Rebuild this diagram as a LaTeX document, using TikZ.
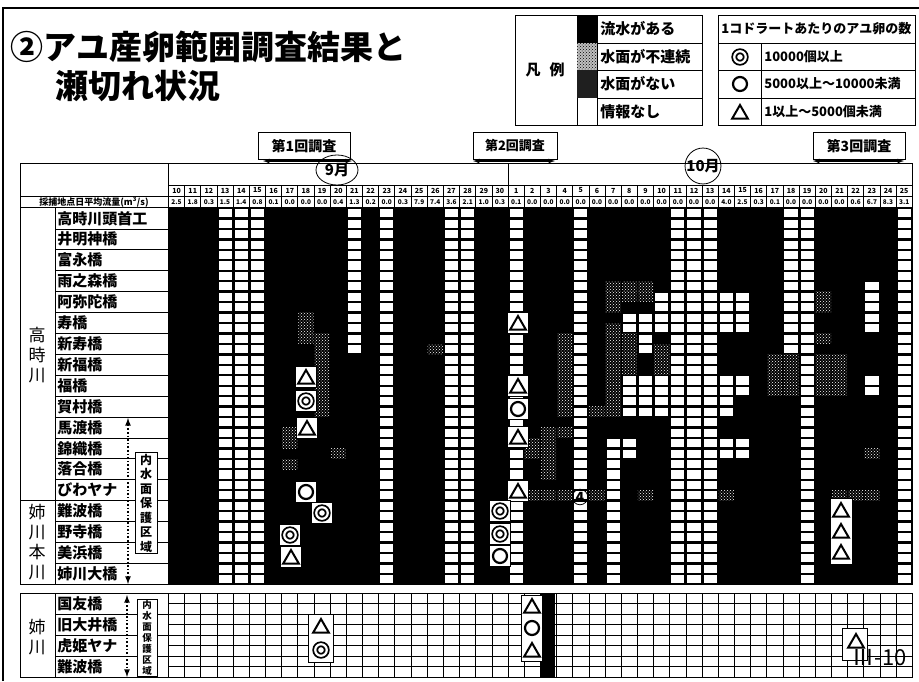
\documentclass[tikz,border=0pt]{standalone}
\usepackage{fontspec}
\setmainfont{Noto Sans CJK JP}
\usetikzlibrary{arrows, patterns, shapes.geometric}
\newcommand{\gridx}{168.5}
\newcommand{\gridy}{208}
\newcommand{\colw}{16.17}
\newcommand{\subh}{10.45}
\newcommand{\rowh}{20.9}
\begin{document}
\begin{tikzpicture}[x=1pt, y=-1pt, line width=0.8pt,
  day/.style={font=\fontsize{7}{7}\selectfont\bfseries, inner sep=0pt},
  flow/.style={font=\fontsize{6.5}{6.5}\selectfont\bfseries, inner sep=0pt},
  sta/.style={anchor=west, font=\fontsize{15}{15}\selectfont\bfseries, inner sep=0pt},
  grp/.style={align=center, font=\fontsize{17}{20}\selectfont, inner sep=0pt},
  symbox/.style={fill=white, draw, line width=0.5pt, minimum size=21pt, inner sep=0pt},
  tri/.style={regular polygon, regular polygon sides=3, draw, line width=2pt, minimum size=18pt, inner sep=0pt, yshift=-2pt},
  ring/.style={circle, draw, line width=2.2pt, minimum size=14pt, inner sep=0pt},
  dring/.style={circle, draw, line width=1.8pt, double=white, double distance=2.2pt, minimum size=11.5pt, inner sep=0pt},
  survey/.style={draw, minimum height=27pt, inner sep=1pt, font=\fontsize{14}{14}\selectfont\bfseries},
  legtxt/.style={anchor=west, font=\fontsize{15}{15}\selectfont\bfseries, inner sep=0pt},
  cnttxt/.style={anchor=west, font=\fontsize{13}{13}\selectfont\bfseries, inner sep=0pt},
  zone/.style={draw, fill=white, align=center, inner sep=1pt, minimum width=22pt}]
\useasboundingbox (0,0) rectangle (919,681);
\fill[white] (0,0) rectangle (919,681);
\draw[line width=1.2pt] (3,681) -- (3,8) -- (919,8);

\node[anchor=west, font=\fontsize{33}{33}\selectfont\bfseries, inner sep=0pt] (ttl1) at (10,47) {②アユ産卵範囲調査結果と};
\node[anchor=west, font=\fontsize{33}{33}\selectfont\bfseries, inner sep=0pt] (ttl2) at (55,86) {瀬切れ状況};

\draw (515,15) rectangle (702,125);
\draw (577,15) -- (577,125);
\draw (597,15) -- (597,125);
\foreach \y in {43,70,98} \draw (597,\y) -- (702,\y);
\fill (577,15) rectangle (597,43);
\fill[black!25] (577,43) rectangle (597,70);
\fill[pattern=crosshatch dots] (577,43) rectangle (597,70);
\fill[black!88] (577,70) rectangle (597,98);
\node[font=\fontsize{15}{15}\selectfont\bfseries] (hanrei) at (545,70) {凡\hspace{9pt}例};
\node[legtxt] (lg1) at (600,29) {流水がある};
\node[legtxt] (lg2) at (600,57) {水面が不連続};
\node[legtxt] (lg3) at (600,84) {水面がない};
\node[legtxt] (lg4) at (600,112) {情報なし};

\draw (718,15) rectangle (915,125);
\foreach \y in {43,70,98} \draw (718,\y) -- (915,\y);
\draw (761,43) -- (761,125);
\node[cnttxt] (cn0) at (721,29) {1コドラートあたりのアユ卵の数};
\node[dring] (cs1) at (740,57) {};
\node[ring] (cs2) at (740,84) {};
\node[tri] (cs3) at (740,112) {};
\node[cnttxt] (cn1) at (764,57) {10000個以上};
\node[cnttxt] (cn2) at (764,84) {5000以上～10000未満};
\node[cnttxt] (cn3) at (764,112) {1以上～5000個未満};

\node[survey, minimum width=92pt] (sv1) at (304,146) {第1回調査};
\node[survey, minimum width=84pt, font=\fontsize{13}{13}\selectfont\bfseries] (sv2) at (515,146) {第2回調査};
\node[survey, minimum width=92pt] (sv3) at (859,146) {第3回調査};
\coordinate (a1l) at (263,161);
\coordinate (a1r) at (352,161);
\coordinate (a2l) at (473,161);
\coordinate (a2r) at (555,161);
\coordinate (a3l) at (813,161);
\coordinate (a3r) at (904,161);
\draw[latex-latex, line width=1.2pt] (a1l) -- (a1r);
\draw[latex-latex, line width=1.2pt] (a2l) -- (a2r);
\draw[latex-latex, line width=1.2pt] (a3l) -- (a3r);

\fill (168.5,208) rectangle (912.3,584.2);
\foreach \c/\a/\b in {3/0/35,4/0/35,5/0/35,11/0/13,13/0/35,17/0/35,18/0/35,21/0/35,25/0/35,
  27/22/35,28/10/11,28/16/19,28/22/23,29/10/13,29/16/19,30/8/11,30/16/19,31/0/35,32/0/35,33/0/35,
  34/8/11,34/16/19,34/22/23,35/8/11,35/16/17,35/22/23,38/0/13,39/0/35,43/7/11,43/16/17,45/0/35}
  \foreach \k in {\a,...,\b}
    \fill[white] ({\gridx+\colw*\c+1.5},{\gridy+\subh*\k+1.2}) rectangle ++(13.2,8.1);
\foreach \c/\a/\b in {8/10/12,9/12/19,7/21/22,7/24/24,10/23/23,16/13/13,22/22/23,23/21/25,24/12/19,
  24/21/21,22/27/27,23/27/27,24/27/27,26/19/19,26/27/27,27/7/9,27/11/19,28/7/8,28/12/15,29/7/8,
  30/13/15,29/27/27,34/27/27,37/14/17,38/14/17,40/8/9,40/12/12,40/14/17,41/14/17,41/27/27,
  42/27/27,43/23/23,43/27/27}
  \foreach \k in {\a,...,\b}
    \fill[pattern=crosshatch dots, pattern color=white] ({\gridx+\colw*\c+0.5},{\gridy+\subh*\k+0.3}) rectangle ++(15.2,9.9);

\draw (20,163) rectangle (912.3,584.2);
\draw (168.5,163) -- (168.5,584.2);
\draw (168.5,185) -- (912.3,185);
\draw (20,196) -- (912.3,196);
\draw (20,207.5) -- (912.3,207.5);
\draw ({\gridx+\colw*21},163) -- ({\gridx+\colw*21},185);
\foreach \i in {1,...,45} \draw ({\gridx+\colw*\i},185) -- ({\gridx+\colw*\i},207.5);
\draw (55,207.5) -- (55,584.2);
\draw (20,500.6) -- (55,500.6);
\foreach \i in {1,...,17} \draw (55,{\gridy+\rowh*\i}) -- (168.5,{\gridy+\rowh*\i});

\node[draw, ellipse, minimum width=42pt, minimum height=30pt, inner sep=0pt, font=\fontsize{15}{15}\selectfont\bfseries] (sep) at (337,170) {9月};
\node[draw, circle, minimum size=34pt, inner sep=0pt, font=\fontsize{15}{15}\selectfont\bfseries] (oct) at (703,166) {10月};

\foreach \d [count=\i from 0] in {10,...,30}
  \node[day] (d\i) at ({\gridx+\colw*\i+\colw/2},190.5) {\d};
\foreach \d [count=\i from 21] in {1,...,25}
  \node[day] (d\i) at ({\gridx+\colw*\i+\colw/2},190.5) {\d};
\foreach \v [count=\i from 0] in {2.5,1.8,0.3,1.5,1.4,0.8,0.1,0.0,0.0,0.0,0.4,1.3,0.2,0.0,0.3,7.9,7.4,3.6,2.1,1.0,0.3,
  0.1,0.0,0.0,0.0,0.0,0.0,0.0,0.0,0.0,0.0,0.0,0.0,0.0,4.0,2.5,0.3,0.1,0.0,0.0,0.0,0.0,0.6,6.7,8.3,3.1}
  \node[flow] (f\i) at ({\gridx+\colw*\i+\colw/2},201.8) {\v};
\node[font=\fontsize{9}{9}\selectfont\bfseries, inner sep=0pt] (flowlbl) at (94,201.8) {採捕地点日平均流量(m\textsuperscript{3}/s)};

\foreach \n [count=\i from 0] in {高時川頭首工,井明神橋,富永橋,雨之森橋,阿弥陀橋,寿橋,新寿橋,新福橋,福橋,
  賀村橋,馬渡橋,錦織橋,落合橋,びわヤナ,難波橋,野寺橋,美浜橋,姉川大橋}
  \node[sta] (st\i) at (57,{\gridy+\rowh*\i+\rowh/2}) {\n};
\node[grp] (g1) at (37,355) {高\\時\\川};
\node[grp] (g2) at (37,542) {姉\\川\\本\\川};
\coordinate (pz1) at (128,418);
\coordinate (pz2) at (128,584);
\draw[dotted, line width=1.6pt, latex-latex] (pz1) -- (pz2);
\node[zone, font=\fontsize{12}{14.5}\selectfont\bfseries] (nz1) at (146,503) {内\\水\\面\\保\\護\\区\\域};

\foreach \nm/\x/\y/\t in {s1/306/377/tri, s2/306/401/dring, s3/307/428/tri, s4/306/492/ring,
  s5/322/513/dring, s6/290/535/dring, s7/291/557/tri, s8/518/323/tri, s9/518/386/tri,
  s10/518/409/ring, s11/518/437/tri, s12/518/491/tri, s13/500/511/dring, s14/500/534/dring,
  s15/500/556/ring}
{
  \node[symbox] (\nm) at (\x,\y) {};
  \node[\t] (\nm-i) at (\x,\y) {};
}
\node[symbox, minimum width=22pt, minimum height=66pt] (bx1) at (841,531) {};
\node[tri] (s16) at (841,510) {};
\node[tri] (s17) at (841,531) {};
\node[tri] (s18) at (841,552) {};
\node[circle, draw, inner sep=0.8pt, font=\fontsize{14}{14}\selectfont\bfseries] (n4) at (580,497) {4};

\draw (20,593) rectangle (912.3,677);
\draw (55,593) -- (55,677);
\foreach \i in {1,2,3} \draw (55,{593+21*\i}) -- (168.5,{593+21*\i});
\foreach \i in {0,...,46} \draw ({\gridx+\colw*\i},593) -- ({\gridx+\colw*\i},677);
\foreach \k in {1,...,7} \draw (168.5,{593+10.5*\k}) -- (912.3,{593+10.5*\k});
\fill ({\gridx+\colw*23+1},593) rectangle ++(14,84);
\foreach \n [count=\i from 0] in {国友橋,旧大井橋,虎姫ヤナ,難波橋}
  \node[sta] (bt\i) at (57,{593+21*\i+10.5}) {\n};
\node[grp] (g3) at (37,637) {姉\\川};
\coordinate (pz3) at (127,595);
\coordinate (pz4) at (127,677);
\draw[dotted, line width=1.6pt, latex-latex] (pz3) -- (pz4);
\node[zone, font=\fontsize{9.5}{11}\selectfont\bfseries, minimum width=20pt] (nz2) at (147,638) {内\\水\\面\\保\\護\\区\\域};

\node[symbox, minimum width=25pt, minimum height=48pt] (bx2) at (321,638) {};
\node[tri] (b1) at (321,626) {};
\node[dring] (b2) at (321,650) {};
\node[symbox, minimum width=21pt, minimum height=66pt] (bx3) at (532,628) {};
\node[tri] (b3) at (532,606) {};
\node[ring] (b4) at (532,628) {};
\node[tri] (b5) at (532,650) {};
\node[symbox, minimum width=25pt, minimum height=32pt] (bx4) at (855,644) {};
\node[tri] (b6) at (856,641) {};
\node[font=\fontsize{22}{22}\selectfont, inner sep=0pt] (pg) at (880,658) {Ⅲ-10};
\end{tikzpicture}
\end{document}
